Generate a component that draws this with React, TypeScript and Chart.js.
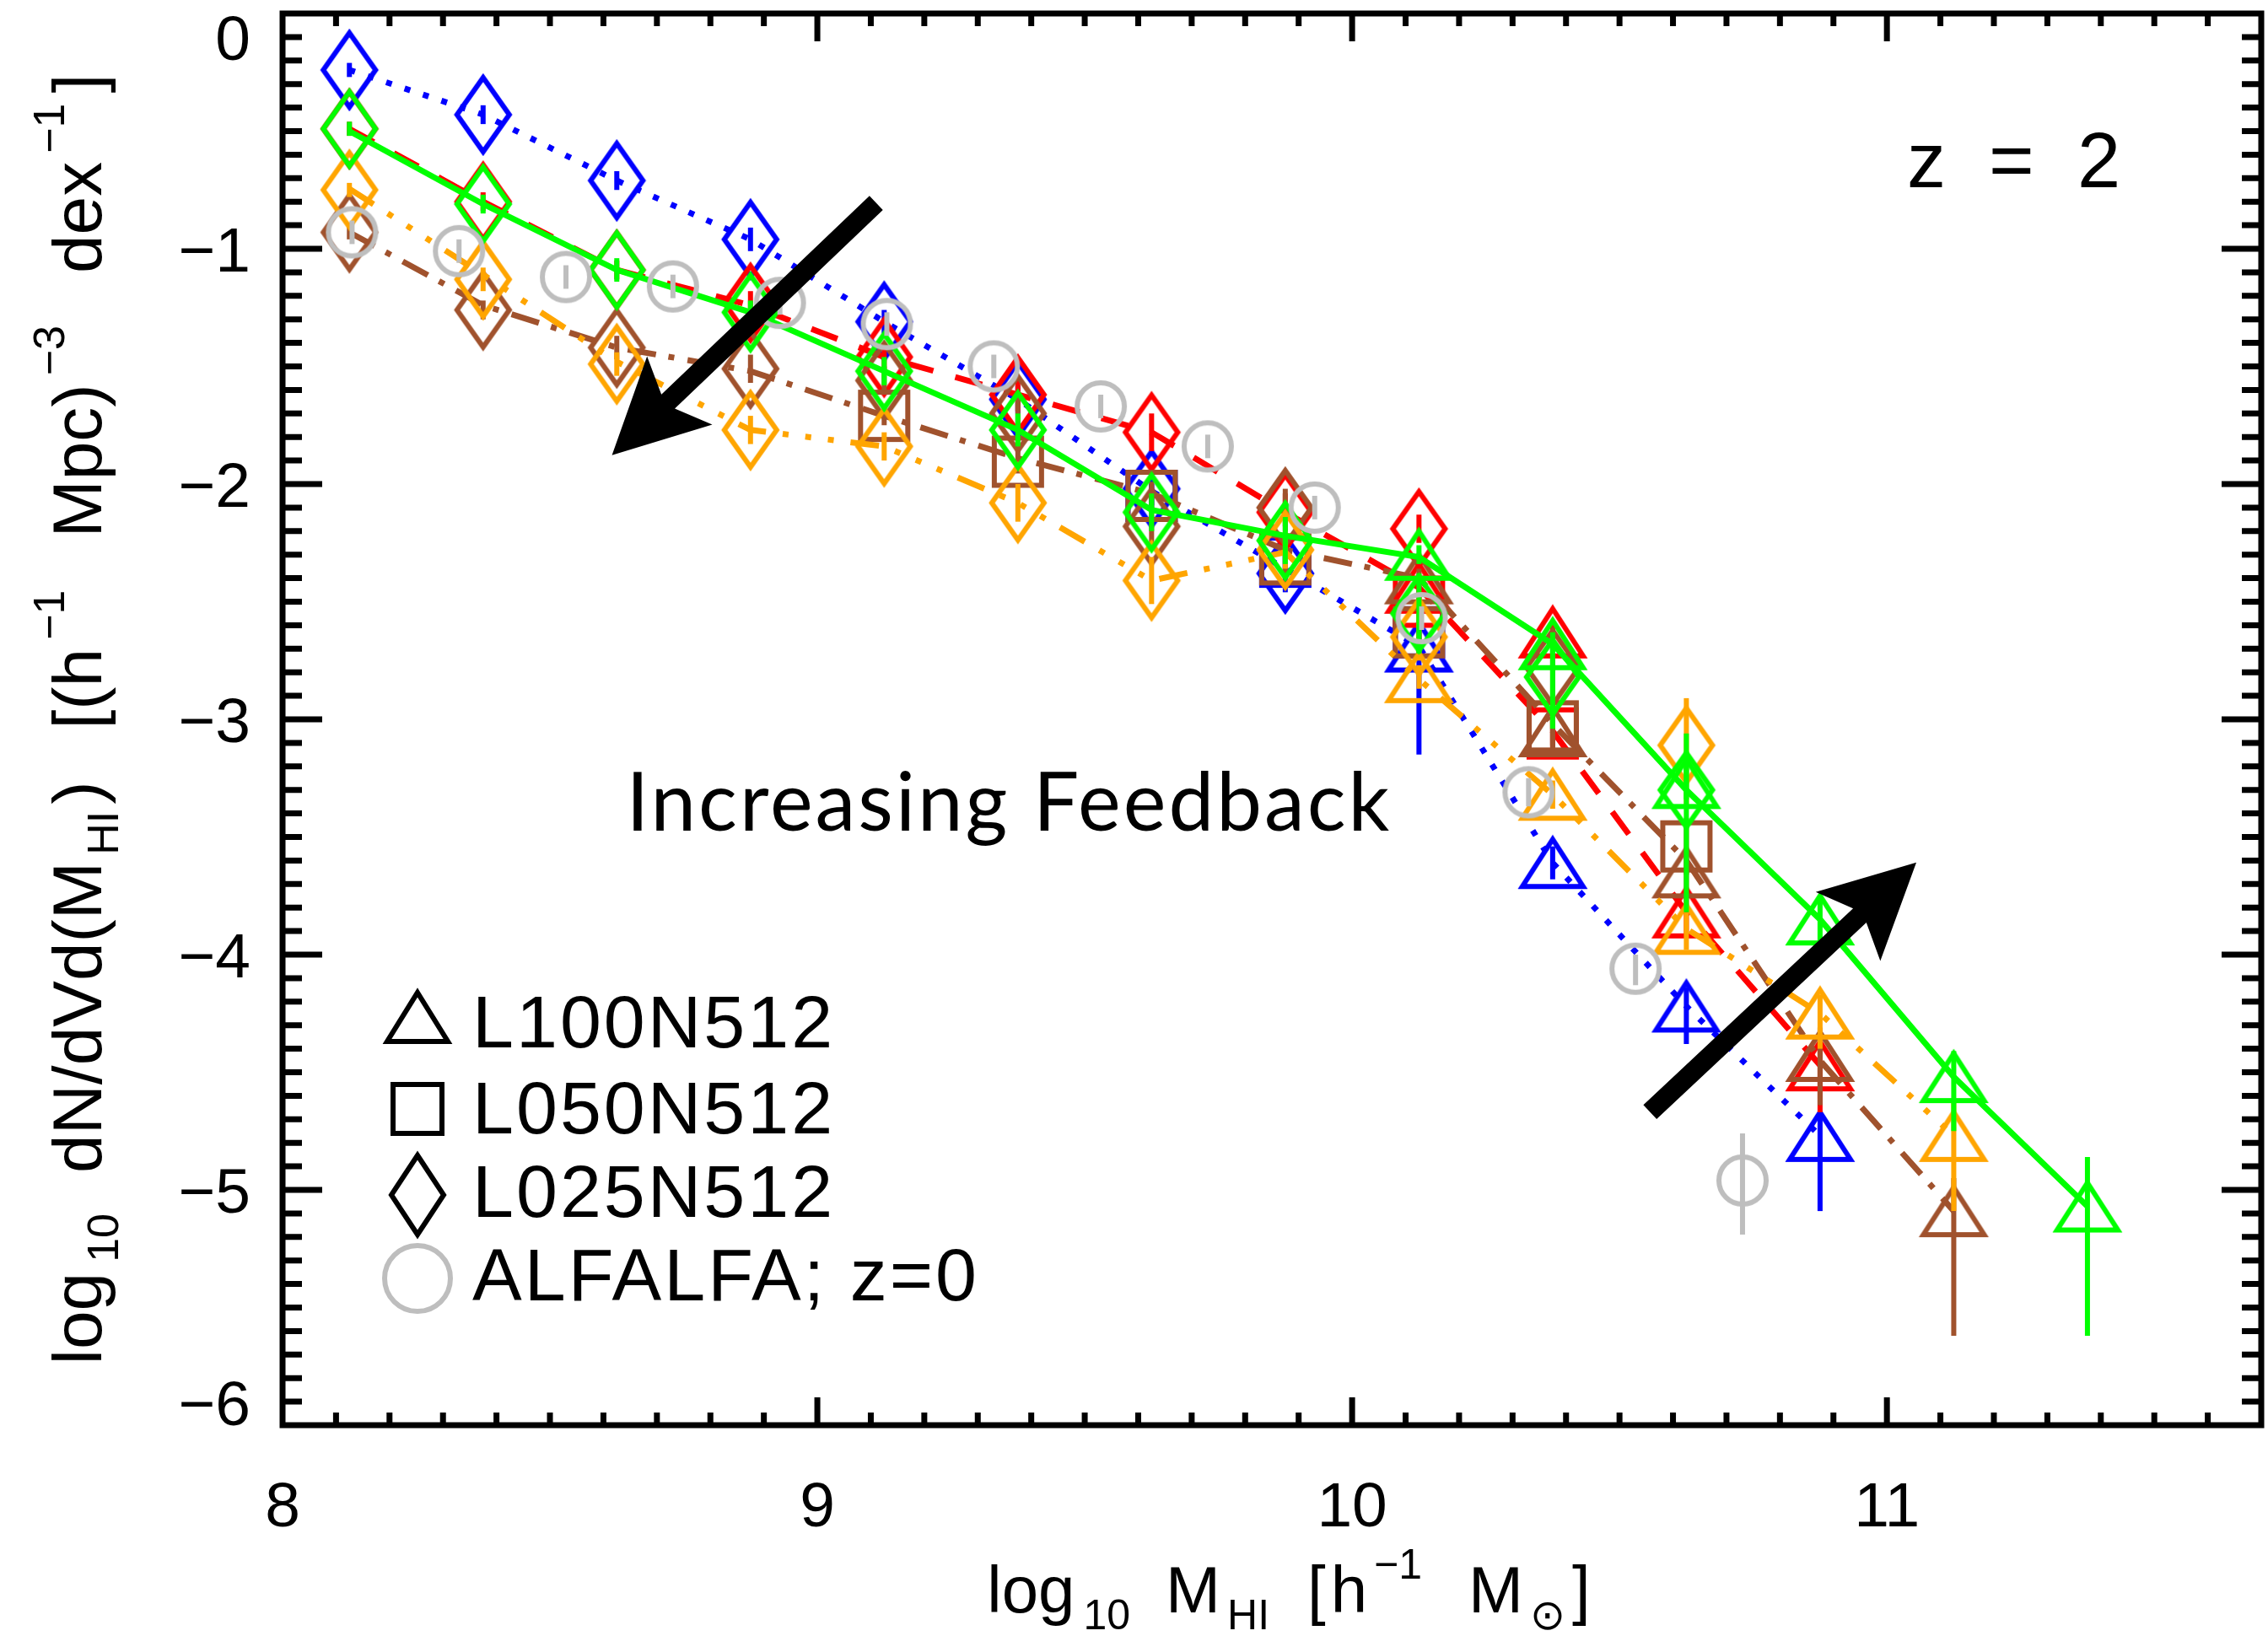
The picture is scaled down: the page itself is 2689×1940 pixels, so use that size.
import React, { useEffect, useRef } from 'react';
import { Chart, registerables } from 'chart.js';

Chart.register(...registerables);

// ---------------- data ----------------
const massBins = [8.125, 8.375, 8.625, 8.875, 9.125, 9.375, 9.625, 9.875, 10.125, 10.375, 10.625, 10.875, 11.125, 11.375];

// blue run (dotted)
const blueLine = [-0.24, -0.43, -0.71, -0.96, -1.31, -1.64, -2.03, -2.36, -2.69, -3.61, -4.22, -4.77, null, null];
const blueL025 = [-0.24, -0.43, -0.71, -0.96, -1.31, -1.64, -2.02, -2.38, null, null, null, null, null, null];
const blueL025Err = [[0.03, 0.03], [0.04, 0.04], [0.04, 0.04], [0.05, 0.05], [0.05, 0.05], [0.06, 0.06], [0.07, 0.07], [0.08, 0.08], null, null, null, null, null, null];
const blueL050 = [null, null, null, null, null, null, -2.05, -2.33, -2.63, null, null, null, null, null];
const blueL050Err = [null, null, null, null, null, null, [0.05, 0.05], [0.06, 0.06], [0.08, 0.08], null, null, null, null, null];
const blueL100 = [null, null, null, null, null, null, null, null, -2.69, -3.61, -4.22, -4.77, null, null];
const blueL100Err = [null, null, null, null, null, null, null, null, [0.46, 0.08], [0.07, 0.07], [0.16, 0.08], [0.32, 0.1], null, null];

// red run (dashed)
const redLine = [-0.49, -0.8, -1.09, -1.24, -1.46, -1.62, -1.78, -2.12, -2.44, -3.05, -3.82, -4.47, null, null];
const redL025 = [-0.49, -0.8, -1.09, -1.23, -1.46, -1.62, -1.78, -2.12, -2.19, null, null, null, null, null];
const redL025Err = [[0.03, 0.03], [0.04, 0.04], [0.04, 0.04], [0.05, 0.05], [0.06, 0.06], [0.07, 0.07], [0.08, 0.08], [0.08, 0.08], [0.06, 0.06], null, null, null, null, null];
const redL050 = [null, null, null, null, null, null, null, null, -2.5, -3.06, null, null, null, null];
const redL050Err = [null, null, null, null, null, null, null, null, [0.05, 0.05], [0.06, 0.06], null, null, null, null];
const redL100 = [null, null, null, null, null, null, null, null, -2.44, -2.63, -3.82, -4.47, null, null];
const redL100Err = [null, null, null, null, null, null, null, null, [0.05, 0.05], [0.05, 0.05], [0.09, 0.07], [0.2, 0.1], null, null];

// brown run (dash-dot)
const brownLine = [-0.93, -1.24, -1.42, -1.52, -1.71, -1.89, -2.04, -2.28, -2.4, -3.02, -3.6, -4.45, -5.09, null];
const brownL025 = [-0.93, -1.26, -1.42, -1.51, -1.56, -1.7, -2.18, -2.1, null, -2.78, null, null, null, null];
const brownL025Err = [[0.03, 0.03], [0.04, 0.04], [0.05, 0.05], [0.06, 0.06], [0.06, 0.06], [0.07, 0.07], [0.08, 0.08], [0.08, 0.08], null, [0.12, 0.12], null, null, null, null];
const brownL050 = [null, null, null, null, -1.71, -1.905, -2.05, -2.32, -2.63, -3.03, -3.54, null, null, null];
const brownL050Err = [null, null, null, null, [0.04, 0.04], [0.05, 0.05], [0.06, 0.06], [0.06, 0.06], [0.08, 0.08], [0.1, 0.1], [0.12, 0.12], null, null, null];
const brownL100 = [null, null, null, null, null, null, null, null, -2.4, -3.05, -3.65, -4.43, -5.09, null];
const brownL100Err = [null, null, null, null, null, null, null, null, [0.04, 0.04], [0.06, 0.06], [0.1, 0.08], [0.21, 0.12], [0.53, 0.14], null];

// orange run (dash-dot-dot-dot)
const orangeLine = [-0.745, -1.11, -1.48, -1.77, -1.84, -2.08, -2.41, -2.29, -2.83, -3.32, -3.89, -4.25, -4.77, null];
const orangeL025 = [-0.75, -1.13, -1.49, -1.77, -1.84, -2.08, -2.41, -2.28, -2.65, null, -3.11, null, null, null];
const orangeL025Err = [[0.03, 0.03], [0.05, 0.05], [0.05, 0.05], [0.06, 0.06], [0.06, 0.06], [0.08, 0.08], [0.1, 0.1], [0.08, 0.08], [0.1, 0.1], null, [0.25, 0.2], null, null, null];
const orangeL100 = [null, null, null, null, null, null, null, null, -2.82, -3.32, -3.89, -4.25, -4.77, null];
const orangeL100Err = [null, null, null, null, null, null, null, null, [0.05, 0.05], [0.06, 0.06], [0.09, 0.07], [0.15, 0.08], [0.32, 0.14], null];

// green run (solid)
const greenLine = [-0.5, -0.81, -1.09, -1.27, -1.52, -1.77, -2.11, -2.22, -2.31, -2.68, -3.3, -3.85, -4.52, -5.07];
const greenL025 = [-0.49, -0.81, -1.09, -1.27, -1.52, -1.77, -2.12, -2.24, -2.55, -2.82, -3.3, null, null, null];
const greenL025Err = [[0.03, 0.03], [0.04, 0.04], [0.05, 0.05], [0.05, 0.05], [0.06, 0.06], [0.07, 0.07], [0.08, 0.08], [0.1, 0.1], [0.17, 0.17], [0.22, 0.16], [0.52, 0.24], null, null, null];
const greenL100 = [null, null, null, null, null, null, null, null, -2.3, -2.68, -3.27, -3.85, -4.52, -5.07];
const greenL100Err = [null, null, null, null, null, null, null, null, [0.04, 0.04], [0.05, 0.05], [0.07, 0.07], [0.1, 0.1], [0.23, 0.11], [0.55, 0.21]];

// ALFALFA z=0 observations
const alfalfaMass = [8.13, 8.33, 8.53, 8.73, 8.93, 9.13, 9.33, 9.53, 9.73, 9.93, 10.13, 10.33, 10.53, 10.73];
const alfalfaPhi = [-0.93, -1.01, -1.12, -1.16, -1.23, -1.32, -1.5, -1.67, -1.84, -2.1, -2.57, -3.31, -4.06, -4.96];
const alfalfaErr = [[0.05, 0.05], [0.05, 0.05], [0.05, 0.05], [0.05, 0.05], [0.05, 0.05], [0.05, 0.05], [0.05, 0.05], [0.05, 0.05], [0.05, 0.05], [0.05, 0.05], [0.05, 0.05], [0.06, 0.06], [0.07, 0.06], [0.23, 0.2]];

// axes / labels
const xRange = [8, 11.7];
const yRange = [-6, 0];
const xTickValues = [8, 9, 10, 11];
const yTickValues = [0, -1, -2, -3, -4, -5, -6];
const legendLabels = ['L100N512', 'L050N512', 'L025N512', 'ALFALFA; z=0'];
const legendShapes = ['tri', 'sq', 'dia', 'circ'];
const annotationText = 'Increasing Feedback';
const annotationAnchor = [8.6425, -3.473];
const redshiftText = 'z  =  2';
const arrows = [
  { from: [9.11, -0.805], to: [8.616, -1.877] },
  { from: [10.557, -4.669], to: [11.055, -3.608] },
];

// ---------------- styling ----------------
const FONT = '"Liberation Sans", "DejaVu Sans", Arial, sans-serif';
const GRAY = '#bebebe';
const MARK: any = { dia: [31, 44], sq: [28, 28], tri: [36, 28], circ: [28, 28] };
const MARK_LW = 6;

type Seg = { t?: string; k?: 'sub' | 'sup'; gap?: number };
const xTitle: Seg[] = [
  { t: 'log' }, { gap: 10 }, { t: '10', k: 'sub' }, { gap: 42 }, { t: 'M' }, { gap: 8 }, { t: 'HI', k: 'sub' },
  { gap: 45 }, { t: '[' }, { gap: 6 }, { t: 'h' }, { gap: 8 }, { t: '\u22121', k: 'sup' }, { gap: 55 }, { t: 'M' },
  { gap: 8 }, { t: '\u2299', k: 'sub' }, { gap: 8 }, { t: ']' },
];
const yTitle: Seg[] = [
  { t: 'log' }, { gap: 12 }, { t: '10', k: 'sub' }, { gap: 48 }, { t: 'dN/dVd(M' }, { gap: 8 }, { t: 'HI', k: 'sub' },
  { gap: 8 }, { t: ')' }, { gap: 62 }, { t: '[(h' }, { gap: 10 }, { t: '\u22121', k: 'sup' }, { gap: 62 }, { t: 'Mpc)' },
  { gap: 10 }, { t: '\u22123', k: 'sup' }, { gap: 62 }, { t: 'dex' }, { gap: 10 }, { t: '\u22121', k: 'sup' }, { gap: 12 }, { t: ']' },
];

function shapePath(g: CanvasRenderingContext2D, shape: string, x: number, y: number, hw: number, hh: number) {
  g.beginPath();
  if (shape === 'dia') {
    g.moveTo(x, y - hh); g.lineTo(x + hw, y); g.lineTo(x, y + hh); g.lineTo(x - hw, y); g.closePath();
  } else if (shape === 'sq') {
    g.rect(x - hw, y - hh, 2 * hw, 2 * hh);
  } else if (shape === 'tri') {
    g.moveTo(x, y - hh); g.lineTo(x + hw, y + hh); g.lineTo(x - hw, y + hh); g.closePath();
  } else {
    g.ellipse(x, y, hw, hh, 0, 0, Math.PI * 2);
  }
}

function makeMarker(shape: string, color: string) {
  const [hw, hh] = MARK[shape];
  const pad = 14;
  const c = document.createElement('canvas');
  c.width = 2 * hw + 2 * pad;
  c.height = 2 * hh + 2 * pad;
  const g = c.getContext('2d')!;
  g.strokeStyle = color;
  g.lineWidth = MARK_LW;
  g.lineJoin = 'miter';
  g.miterLimit = 10;
  shapePath(g, shape, c.width / 2, c.height / 2, hw, hh);
  g.stroke();
  return c;
}

function drawRich(ctx: CanvasRenderingContext2D, segs: Seg[], cx: number, by: number, big: number, small: number, subDy: number, supDy: number) {
  const fBig = `${big}px ${FONT}`;
  const fSmall = `${small}px ${FONT}`;
  const widths = segs.map((s) => {
    if (s.gap != null) return s.gap;
    ctx.font = s.k ? fSmall : fBig;
    return ctx.measureText(s.t!).width;
  });
  const total = widths.reduce((a, b) => a + b, 0);
  let x = cx - total / 2;
  ctx.textAlign = 'left';
  ctx.textBaseline = 'alphabetic';
  segs.forEach((s, i) => {
    if (s.t) {
      ctx.font = s.k ? fSmall : fBig;
      const dy = s.k === 'sub' ? subDy : s.k === 'sup' ? supDy : 0;
      ctx.fillText(s.t, x, by + dy);
    }
    x += widths[i];
  });
}

function drawArrow(ctx: CanvasRenderingContext2D, x1: number, y1: number, x2: number, y2: number) {
  const dx = x2 - x1, dy = y2 - y1;
  const L = Math.hypot(dx, dy);
  const ux = dx / L, uy = dy / L;
  const px = -uy, py = ux;
  const headLen = 111, hw = 56, sw = 11.5, notch = 92;
  const bx = x2 - ux * headLen, by = y2 - uy * headLen;
  const nx = x2 - ux * notch, ny = y2 - uy * notch;
  ctx.beginPath();
  ctx.moveTo(x2, y2);
  ctx.lineTo(bx + px * hw, by + py * hw);
  ctx.lineTo(nx + px * sw, ny + py * sw);
  ctx.lineTo(x1 + px * sw, y1 + py * sw);
  ctx.lineTo(x1 - px * sw, y1 - py * sw);
  ctx.lineTo(nx - px * sw, ny - py * sw);
  ctx.lineTo(bx - px * hw, by - py * hw);
  ctx.closePath();
  ctx.fill();
}

function tickText(v: number) {
  return v < 0 ? '\u2212' + Math.abs(v) : String(v);
}

const idlPlugin = {
  id: 'idlDecor',
  beforeDraw(chart: any) {
    const { ctx, width, height } = chart;
    ctx.save();
    ctx.fillStyle = '#ffffff';
    ctx.fillRect(0, 0, width, height);
    ctx.restore();
  },
  afterDatasetDraw(chart: any, args: any) {
    const ds = chart.data.datasets[args.index];
    if (!ds.errBars) return;
    const ctx = chart.ctx;
    const xs = chart.scales.x, ys = chart.scales.y;
    const a = chart.chartArea;
    ctx.save();
    ctx.beginPath();
    ctx.rect(a.left, a.top, a.right - a.left, a.bottom - a.top);
    ctx.clip();
    ctx.strokeStyle = ds.errColor;
    ctx.lineWidth = ds.errWidth || 6;
    ctx.lineCap = 'butt';
    ds.data.forEach((p: any) => {
      if (!p.e) return;
      const x = xs.getPixelForValue(p.x);
      ctx.beginPath();
      ctx.moveTo(x, ys.getPixelForValue(p.y - p.e[0]));
      ctx.lineTo(x, ys.getPixelForValue(p.y + p.e[1]));
      ctx.stroke();
    });
    ctx.restore();
  },
  afterDraw(chart: any) {
    const ctx: CanvasRenderingContext2D = chart.ctx;
    const a = chart.chartArea;
    const xs = chart.scales.x, ys = chart.scales.y;
    ctx.save();

    // arrows
    ctx.fillStyle = '#000';
    arrows.forEach((ar) => {
      drawArrow(ctx, xs.getPixelForValue(ar.from[0]), ys.getPixelForValue(ar.from[1]), xs.getPixelForValue(ar.to[0]), ys.getPixelForValue(ar.to[1]));
    });

    // frame
    ctx.strokeStyle = '#000';
    ctx.lineWidth = 7;
    ctx.lineCap = 'butt';
    ctx.strokeRect(a.left, a.top, a.right - a.left, a.bottom - a.top);

    // ticks (inward, all four sides)
    for (let i = Math.round(xRange[0] * 10) + 1; i < Math.round(xRange[1] * 10); i++) {
      const x = xs.getPixelForValue(i / 10);
      const len = i % 10 === 0 ? 33 : 15;
      ctx.beginPath();
      ctx.moveTo(x, a.bottom); ctx.lineTo(x, a.bottom - len);
      ctx.moveTo(x, a.top); ctx.lineTo(x, a.top + len);
      ctx.stroke();
    }
    for (let i = Math.round(yRange[0] * 10) + 1; i < Math.round(yRange[1] * 10); i++) {
      const y = ys.getPixelForValue(i / 10);
      const len = i % 10 === 0 ? 47 : 23;
      ctx.beginPath();
      ctx.moveTo(a.left, y); ctx.lineTo(a.left + len, y);
      ctx.moveTo(a.right, y); ctx.lineTo(a.right - len, y);
      ctx.stroke();
    }

    // tick labels
    ctx.fillStyle = '#000';
    ctx.font = `75px ${FONT}`;
    ctx.textBaseline = 'alphabetic';
    ctx.textAlign = 'center';
    xTickValues.forEach((v) => {
      ctx.fillText(tickText(v), xs.getPixelForValue(v), a.bottom + 120);
    });
    ctx.textAlign = 'right';
    yTickValues.forEach((v) => {
      let cy = ys.getPixelForValue(v);
      cy = Math.min(Math.max(cy, a.top + 28), a.bottom - 27);
      ctx.fillText(tickText(v), a.left - 38, cy + 27);
    });

    // axis titles
    drawRich(ctx, xTitle, a.left + 1193, a.bottom + 222, 78, 50, 20, -40);
    ctx.save();
    ctx.translate(a.left - 215, (a.top + a.bottom) / 2);
    ctx.rotate(-Math.PI / 2);
    drawRich(ctx, yTitle, 0, 0, 82, 52, 20, -44);
    ctx.restore();

    // legend
    const rows = [
      { base: a.bottom - 448, cy: a.bottom - 484, hw: 36, hh: 29 },
      { base: a.bottom - 346, cy: a.bottom - 375, hw: 29, hh: 29 },
      { base: a.bottom - 247, cy: a.bottom - 273, hw: 31, hh: 47 },
      { base: a.bottom - 148, cy: a.bottom - 174, hw: 39, hh: 39 },
    ];
    legendLabels.forEach((lab, i) => {
      const r = rows[i];
      const shape = legendShapes[i];
      ctx.strokeStyle = shape === 'circ' ? GRAY : '#000';
      ctx.lineWidth = 6;
      ctx.lineJoin = 'miter';
      shapePath(ctx, shape, a.left + 160, r.cy, r.hw, r.hh);
      ctx.stroke();
      ctx.fillStyle = '#000';
      ctx.font = `88px ${FONT}`;
      ctx.textAlign = 'left';
      (ctx as any).letterSpacing = '3px';
      ctx.fillText(lab, a.left + 225, r.base);
      (ctx as any).letterSpacing = '0px';
    });

    // annotations
    ctx.fillStyle = '#000';
    ctx.font = `96px Lato, "Open Sans", ${FONT}`;
    ctx.textAlign = 'left';
    (ctx as any).letterSpacing = '3px';
    ctx.fillText(annotationText, xs.getPixelForValue(annotationAnchor[0]), ys.getPixelForValue(annotationAnchor[1]));
    (ctx as any).letterSpacing = '0px';

    ctx.font = `92px ${FONT}`;
    ctx.textAlign = 'left';
    ctx.fillText(redshiftText, a.right - 420, a.top + 206);

    ctx.restore();
  },
};

function pts(xsArr: number[], vals: (number | null)[], errs?: any[]) {
  const out: any[] = [];
  xsArr.forEach((x, i) => {
    const v = vals[i];
    if (v == null) return;
    out.push({ x, y: v, e: errs ? errs[i] : null });
  });
  return out;
}

const runs = [
  { color: '#0000ff', dash: [7, 16], line: blueLine, order: 50, sets: [[blueL100, blueL100Err, 'tri'], [blueL050, blueL050Err, 'sq'], [blueL025, blueL025Err, 'dia']] },
  { color: '#ff0000', dash: [33, 27], line: redLine, order: 40, sets: [[redL100, redL100Err, 'tri'], [redL050, redL050Err, 'sq'], [redL025, redL025Err, 'dia']] },
  { color: '#a0522d', dash: [34, 15, 7, 16], line: brownLine, order: 30, sets: [[brownL100, brownL100Err, 'tri'], [brownL050, brownL050Err, 'sq'], [brownL025, brownL025Err, 'dia']] },
  { color: '#ffa500', dash: [34, 20, 7, 20, 7, 20, 7, 20], line: orangeLine, order: 20, sets: [[orangeL100, orangeL100Err, 'tri'], [orangeL025, orangeL025Err, 'dia']] },
  { color: '#00ff00', dash: [], line: greenLine, order: 10, sets: [[greenL100, greenL100Err, 'tri'], [greenL025, greenL025Err, 'dia']] },
];

export default function App() {
  const ref = useRef<HTMLCanvasElement>(null);

  useEffect(() => {
    const canvas = ref.current;
    if (!canvas) return;
    const datasets: any[] = [];
    runs.forEach((r) => {
      datasets.push({
        data: pts(massBins, r.line),
        showLine: true,
        borderColor: r.color,
        backgroundColor: r.color,
        borderWidth: 7,
        borderDash: r.dash,
        borderCapStyle: 'butt',
        borderJoinStyle: 'miter',
        pointRadius: 0,
        fill: false,
        tension: 0,
        order: r.order + 5,
      });
      r.sets.forEach((s: any, k: number) => {
        datasets.push({
          data: pts(massBins, s[0], s[1]),
          showLine: false,
          pointStyle: makeMarker(s[2], r.color),
          pointRadius: 1,
          borderColor: r.color,
          backgroundColor: 'rgba(0,0,0,0)',
          order: r.order + k,
          errBars: true,
          errColor: r.color,
          errWidth: 6,
        });
      });
    });
    datasets.push({
      data: pts(alfalfaMass, alfalfaPhi, alfalfaErr),
      showLine: false,
      pointStyle: makeMarker('circ', GRAY),
      pointRadius: 1,
      borderColor: GRAY,
      backgroundColor: 'rgba(0,0,0,0)',
      order: 0,
      errBars: true,
      errColor: GRAY,
      errWidth: 6,
    });

    const chart = new Chart(canvas, {
      type: 'scatter',
      data: { datasets },
      options: {
        animation: false,
        responsive: false,
        devicePixelRatio: 1,
        events: [],
        layout: { autoPadding: false, padding: { top: 16, right: 8, bottom: 0, left: 0 } },
        plugins: { legend: { display: false }, tooltip: { enabled: false } },
        scales: {
          x: {
            type: 'linear',
            min: xRange[0],
            max: xRange[1],
            grid: { display: false },
            border: { display: false },
            ticks: { display: false },
            afterFit: (s: any) => { s.height = 250; },
          },
          y: {
            type: 'linear',
            min: yRange[0],
            max: yRange[1],
            grid: { display: false },
            border: { display: false },
            ticks: { display: false },
            afterFit: (s: any) => { s.width = 335; },
          },
        },
      } as any,
      plugins: [idlPlugin as any],
    });
    return () => chart.destroy();
  }, []);

  return (
    <div style={{ position: 'absolute', left: 0, top: 0, width: 2689, height: 1940, background: '#fff', overflow: 'hidden' }}>
      <canvas ref={ref} width={2689} height={1940} style={{ width: 2689, height: 1940, display: 'block' }} />
    </div>
  );
}
